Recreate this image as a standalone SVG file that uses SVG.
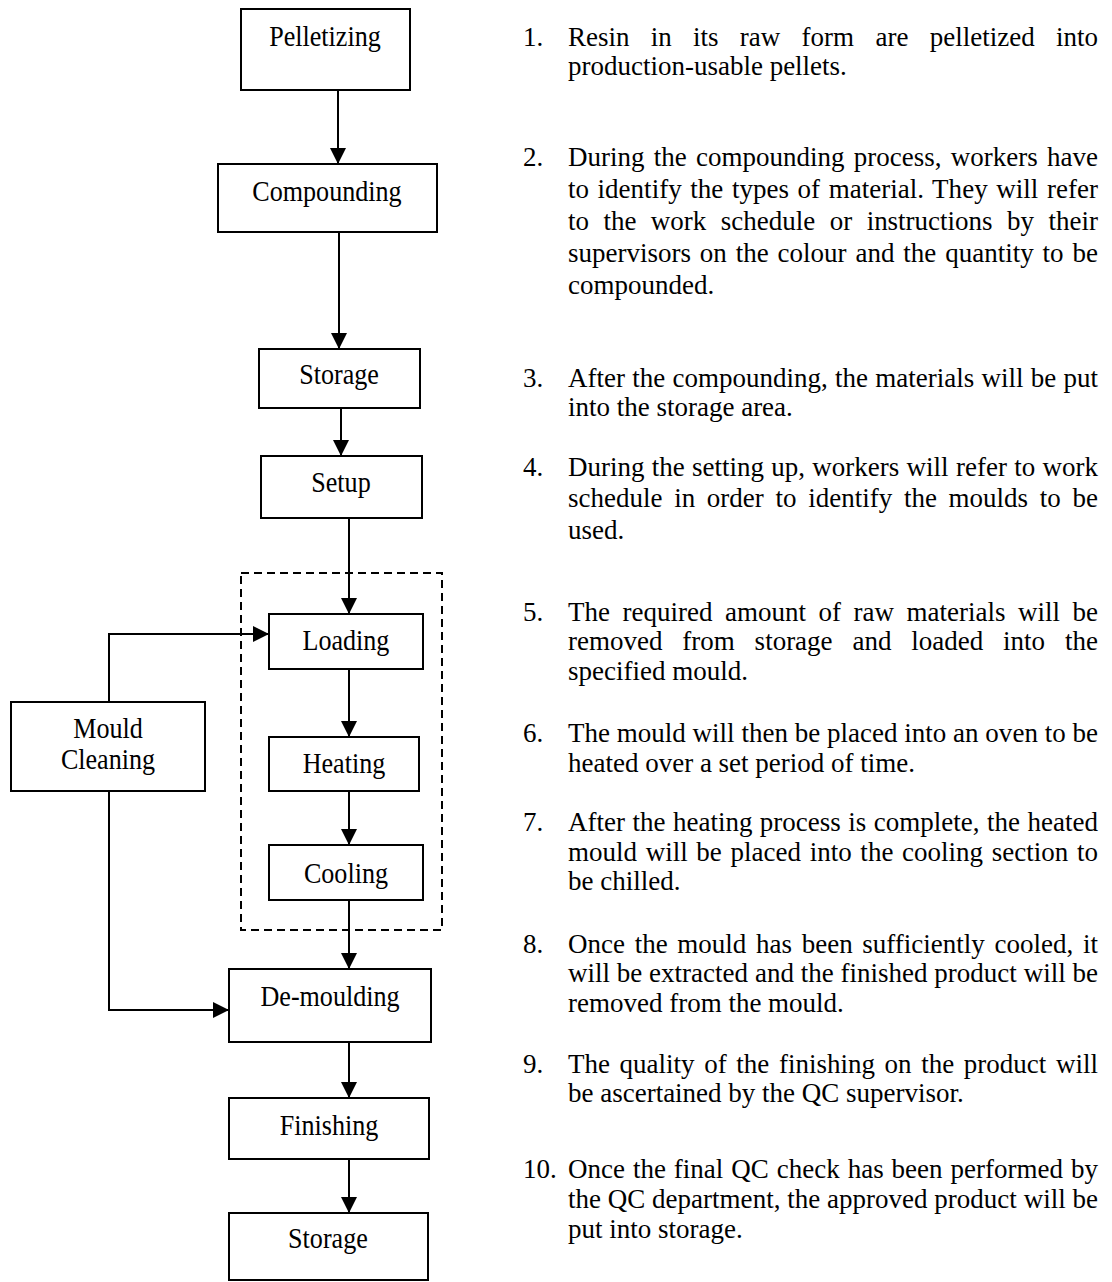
<svg xmlns="http://www.w3.org/2000/svg" width="1112" height="1282" viewBox="0 0 1112 1282">
  <style>
    .box { fill: #ffffff; stroke: #000000; stroke-width: 2; }
    .lbl { font-family: "Liberation Serif", "Times New Roman", serif; font-size: 29px; fill: #000000; text-anchor: middle; }
    .link { fill: none; stroke: #000000; stroke-width: 2; }
    .group { fill: none; stroke: #000000; stroke-width: 2; stroke-dasharray: 8 5; }
    .desc { font-family: "Liberation Serif", "Times New Roman", serif; font-size: 28px; fill: #000000; }
  </style>
  <defs>
    <marker id="arrow" markerUnits="userSpaceOnUse" markerWidth="16" markerHeight="16" refX="16" refY="8" orient="auto">
      <path d="M0,0 L16,8 L0,16 z" fill="#000000"/>
    </marker>
  </defs>
  <rect width="1112" height="1282" fill="#ffffff"/>

  <!-- dashed frame around the moulding cycle -->
  <rect id="moulding-cycle" class="group" x="241" y="573" width="201" height="357"/>

  <!-- connectors -->
  <g id="connectors">
    <line class="link" x1="338" y1="90" x2="338" y2="164" marker-end="url(#arrow)"/>
    <line class="link" x1="339" y1="232" x2="339" y2="349" marker-end="url(#arrow)"/>
    <line class="link" x1="341" y1="408" x2="341" y2="456" marker-end="url(#arrow)"/>
    <line class="link" x1="349" y1="518" x2="349" y2="614" marker-end="url(#arrow)"/>
    <line class="link" x1="349" y1="669" x2="349" y2="737" marker-end="url(#arrow)"/>
    <line class="link" x1="349" y1="791" x2="349" y2="845" marker-end="url(#arrow)"/>
    <line class="link" x1="349" y1="900" x2="349" y2="969" marker-end="url(#arrow)"/>
    <line class="link" x1="349" y1="1042" x2="349" y2="1098" marker-end="url(#arrow)"/>
    <line class="link" x1="349" y1="1159" x2="349" y2="1213" marker-end="url(#arrow)"/>
    <polyline class="link" points="109,702 109,634 269,634" marker-end="url(#arrow)"/>
    <polyline class="link" points="109,791 109,1010 229,1010" marker-end="url(#arrow)"/>
  </g>

  <!-- process steps (labels drawn slightly condensed: x values are centre/0.9) -->
  <g id="pelletizing">
    <rect class="box" x="241" y="9" width="169" height="81"/>
    <text class="lbl" transform="scale(0.9 1)" x="361.1" y="46">Pelletizing</text>
  </g>
  <g id="compounding">
    <rect class="box" x="218" y="164" width="219" height="68"/>
    <text class="lbl" transform="scale(0.9 1)" x="363.3" y="201">Compounding</text>
  </g>
  <g id="storage-1">
    <rect class="box" x="259" y="349" width="161" height="59"/>
    <text class="lbl" transform="scale(0.9 1)" x="376.7" y="384">Storage</text>
  </g>
  <g id="setup">
    <rect class="box" x="261" y="456" width="161" height="62"/>
    <text class="lbl" transform="scale(0.9 1)" x="378.9" y="492">Setup</text>
  </g>
  <g id="loading">
    <rect class="box" x="269" y="614" width="154" height="55"/>
    <text class="lbl" transform="scale(0.9 1)" x="384.4" y="650">Loading</text>
  </g>
  <g id="heating">
    <rect class="box" x="269" y="737" width="150" height="54"/>
    <text class="lbl" transform="scale(0.9 1)" x="382.2" y="773">Heating</text>
  </g>
  <g id="cooling">
    <rect class="box" x="269" y="845" width="154" height="55"/>
    <text class="lbl" transform="scale(0.9 1)" x="384.4" y="883">Cooling</text>
  </g>
  <g id="de-moulding">
    <rect class="box" x="229" y="969" width="202" height="73"/>
    <text class="lbl" transform="scale(0.9 1)" x="366.7" y="1006">De-moulding</text>
  </g>
  <g id="finishing">
    <rect class="box" x="229" y="1098" width="200" height="61"/>
    <text class="lbl" transform="scale(0.9 1)" x="365.6" y="1135">Finishing</text>
  </g>
  <g id="storage-2">
    <rect class="box" x="229" y="1213" width="199" height="67"/>
    <text class="lbl" transform="scale(0.9 1)" x="364.4" y="1248">Storage</text>
  </g>
  <g id="mould-cleaning">
    <rect class="box" x="11" y="702" width="194" height="89"/>
    <text class="lbl" transform="scale(0.9 1)"><tspan x="120" y="738">Mould</tspan><tspan x="120" y="769">Cleaning</tspan></text>
  </g>

  <!-- numbered step descriptions: justified column 568..1098, condensed to 27px width
       (local x = page x / 0.9643; one text element per paragraph) -->
  <g id="descriptions" class="desc" transform="scale(0.9643 1)">
    <text id="step-1"><tspan x="542.4" y="46">1.</tspan><tspan x="589" y="46" word-spacing="15.04" textLength="549.6" lengthAdjust="spacing">Resin in its raw form are pelletized into</tspan><tspan x="589" y="75">production-usable pellets.</tspan></text>

    <text id="step-2"><tspan x="542.4" y="166">2.</tspan><tspan x="589" y="166" word-spacing="2.59" textLength="549.6" lengthAdjust="spacing">During the compounding process, workers have</tspan><tspan x="589" y="198" word-spacing="1.92" textLength="549.6" lengthAdjust="spacing">to identify the types of material. They will refer</tspan><tspan x="589" y="230" word-spacing="7.99" textLength="549.6" lengthAdjust="spacing">to the work schedule or instructions by their</tspan><tspan x="589" y="262" word-spacing="2.18" textLength="549.6" lengthAdjust="spacing">supervisors on the colour and the quantity to be</tspan><tspan x="589" y="294">compounded.</tspan></text>

    <text id="step-3"><tspan x="542.4" y="387">3.</tspan><tspan x="589" y="387" word-spacing="0.52" textLength="549.6" lengthAdjust="spacing">After the compounding, the materials will be put</tspan><tspan x="589" y="416.5">into the storage area.</tspan></text>

    <text id="step-4"><tspan x="542.4" y="476">4.</tspan><tspan x="589" y="476" word-spacing="0.52" textLength="549.6" lengthAdjust="spacing">During the setting up, workers will refer to work</tspan><tspan x="589" y="507.5" word-spacing="5.08" textLength="549.6" lengthAdjust="spacing">schedule in order to identify the moulds to be</tspan><tspan x="589" y="539">used.</tspan></text>

    <text id="step-5"><tspan x="542.4" y="621">5.</tspan><tspan x="589" y="621" word-spacing="6.01" textLength="549.6" lengthAdjust="spacing">The required amount of raw materials will be</tspan><tspan x="589" y="650.5" word-spacing="13.59" textLength="549.6" lengthAdjust="spacing">removed from storage and loaded into the</tspan><tspan x="589" y="680">specified mould.</tspan></text>

    <text id="step-6"><tspan x="542.4" y="742">6.</tspan><tspan x="589" y="742" textLength="549.6" lengthAdjust="spacing">The mould will then be placed into an oven to be</tspan><tspan x="589" y="772">heated over a set period of time.</tspan></text>

    <text id="step-7"><tspan x="542.4" y="831">7.</tspan><tspan x="589" y="831" word-spacing="0.73" textLength="549.6" lengthAdjust="spacing">After the heating process is complete, the heated</tspan><tspan x="589" y="861" word-spacing="1.97" textLength="549.6" lengthAdjust="spacing">mould will be placed into the cooling section to</tspan><tspan x="589" y="890.5">be chilled.</tspan></text>

    <text id="step-8"><tspan x="542.4" y="953">8.</tspan><tspan x="589" y="953" word-spacing="3.01" textLength="549.6" lengthAdjust="spacing">Once the mould has been sufficiently cooled, it</tspan><tspan x="589" y="982.5" textLength="549.6" lengthAdjust="spacing">will be extracted and the finished product will be</tspan><tspan x="589" y="1012">removed from the mould.</tspan></text>

    <text id="step-9"><tspan x="542.4" y="1073">9.</tspan><tspan x="589" y="1073" word-spacing="3.01" textLength="549.6" lengthAdjust="spacing">The quality of the finishing on the product will</tspan><tspan x="589" y="1102.5">be ascertained by the QC supervisor.</tspan></text>

    <text id="step-10"><tspan x="542.4" y="1178">10.</tspan><tspan x="589" y="1178" word-spacing="1.24" textLength="549.6" lengthAdjust="spacing">Once the final QC check has been performed by</tspan><tspan x="589" y="1208" textLength="549.6" lengthAdjust="spacing">the QC department, the approved product will be</tspan><tspan x="589" y="1238">put into storage.</tspan></text>
  </g>
</svg>
